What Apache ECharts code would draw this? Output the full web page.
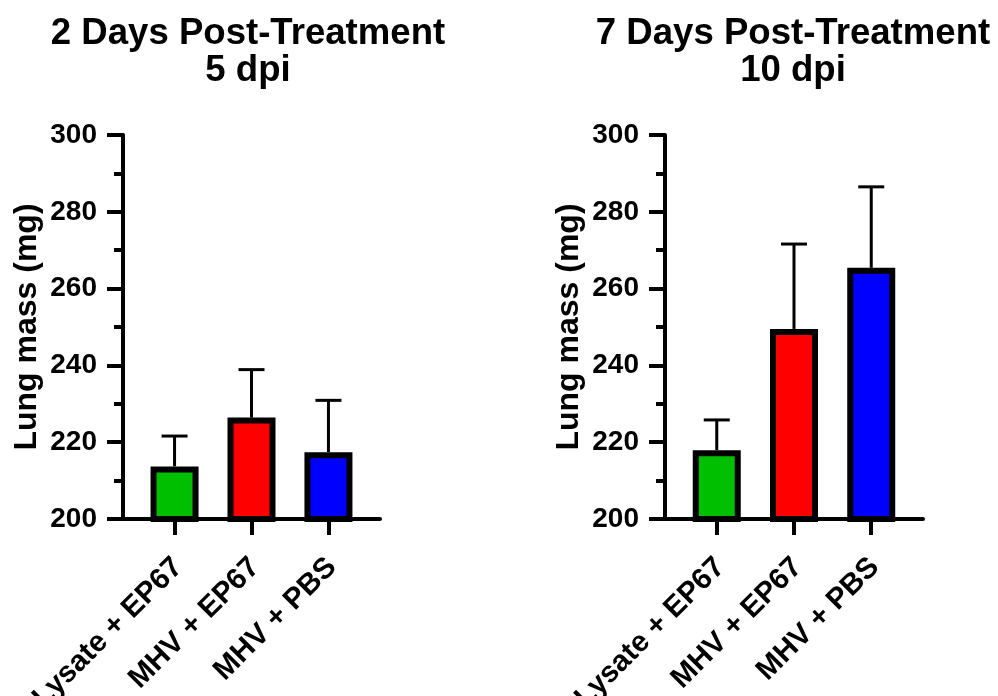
<!DOCTYPE html>
<html>
<head>
<meta charset="utf-8">
<script src="https://cdn.jsdelivr.net/npm/echarts@6/dist/echarts.min.js"></script>
<style>
  html, body { margin: 0; padding: 0; background: #fff; }
  #box { width: 998px; height: 696px; }
</style>
</head>
<body>
<div id="box"></div>
<script>
// groups on the x axis
var categories = ["Lysate + EP67", "MHV + EP67", "MHV + PBS"];
var barColors = ["#00BF00", "#FF0000", "#0000FF"];

// 2 days post-treatment (5 dpi): mean and error (upper bar only)
var day2Mean = [213.7, 226.4, 217.4];
var day2Err = [7.9, 12.5, 13.5];

// 7 days post-treatment (10 dpi)
var day7Mean = [217.9, 249.5, 265.4];
var day7Err = [7.9, 22.1, 21.1];

var yTicks = { min: 200, max: 300, interval: 20 };
var titles = ["2 Days Post-Treatment\n5 dpi", "7 Days Post-Treatment\n10 dpi"];

var font = '"Liberation Sans", Arial, sans-serif';

function barData(mean) {
  return mean.map(function (v, i) {
    return { value: [i, v], itemStyle: { color: barColors[i] } };
  });
}
function errData(mean, err) {
  return mean.map(function (v, i) { return [i, v, v + err[i]]; });
}

function errorItem(params, api) {
  var x = api.value(0);
  var b = api.coord([x, api.value(1)]);
  var t = api.coord([x, api.value(2)]);
  var half = 13;
  var st = { stroke: "#000", lineWidth: 3 };
  return {
    type: "group",
    children: [
      { type: "line", shape: { x1: b[0], y1: b[1], x2: t[0], y2: t[1] }, style: st },
      { type: "line", shape: { x1: t[0] - half, y1: t[1], x2: t[0] + half, y2: t[1] }, style: st }
    ]
  };
}

function xAxisFor(idx) {
  return {
    type: "value",
    gridIndex: idx,
    min: -0.67,
    max: 2.67,
    axisLine: { show: true, onZero: false, lineStyle: { color: "#000", width: 4 } },
    axisTick: { show: true, customValues: [0, 1, 2], length: 16, lineStyle: { color: "#000", width: 4 } },
    axisLabel: {
      customValues: [0, 1, 2],
      rotate: 45,
      margin: 26,
      verticalAlign: "top",
      padding: [0, 10, 0, 0],
      color: "#000",
      fontSize: 29.5,
      fontWeight: "bold",
      fontFamily: font,
      formatter: function (v) { return categories[v]; }
    },
    splitLine: { show: false }
  };
}

function yAxisFor(idx) {
  return {
    type: "value",
    gridIndex: idx,
    min: yTicks.min,
    max: yTicks.max,
    interval: yTicks.interval,
    name: "Lung mass (mg)",
    nameLocation: "middle",
    nameRotate: 90,
    nameGap: 80,
    nameTextStyle: { color: "#000", fontSize: 32, fontWeight: "bold", fontFamily: font },
    axisLine: { show: true, onZero: false, lineStyle: { color: "#000", width: 4 } },
    axisTick: { show: true, length: 16, lineStyle: { color: "#000", width: 4 } },
    minorTick: { show: true, splitNumber: 2, length: 9, lineStyle: { color: "#000", width: 4 } },
    axisLabel: { color: "#000", fontSize: 28, fontWeight: "bold", fontFamily: font, margin: 26 },
    splitLine: { show: false },
    minorSplitLine: { show: false }
  };
}

function barSeries(idx, mean) {
  return {
    type: "bar",
    xAxisIndex: idx,
    yAxisIndex: idx,
    barWidth: 48,
    z: 3,
    itemStyle: { borderColor: "#000", borderWidth: 6 },
    data: barData(mean)
  };
}
function errSeries(idx, mean, err) {
  return {
    type: "custom",
    xAxisIndex: idx,
    yAxisIndex: idx,
    z: 2,
    renderItem: errorItem,
    data: errData(mean, err)
  };
}

var myChart = echarts.init(document.getElementById("box"));
var option = {
  animation: false,
  backgroundColor: "#fff",
  title: [
    { text: titles[0], left: 243, top: 10, textAlign: "center",
      textStyle: { color: "#000", fontSize: 36.6, fontWeight: "bold", fontFamily: font, lineHeight: 37 } },
    { text: titles[1], left: 788, top: 10, textAlign: "center",
      textStyle: { color: "#000", fontSize: 36.6, fontWeight: "bold", fontFamily: font, lineHeight: 37 } }
  ],
  grid: [
    { left: 123, top: 135, width: 257, height: 384, outerBoundsMode: "none" },
    { left: 665, top: 135, width: 258, height: 384, outerBoundsMode: "none" }
  ],
  xAxis: [xAxisFor(0), xAxisFor(1)],
  yAxis: [yAxisFor(0), yAxisFor(1)],
  series: [
    barSeries(0, day2Mean),
    errSeries(0, day2Mean, day2Err),
    barSeries(1, day7Mean),
    errSeries(1, day7Mean, day7Err)
  ]
};
myChart.setOption(option);
</script>
</body>
</html>
